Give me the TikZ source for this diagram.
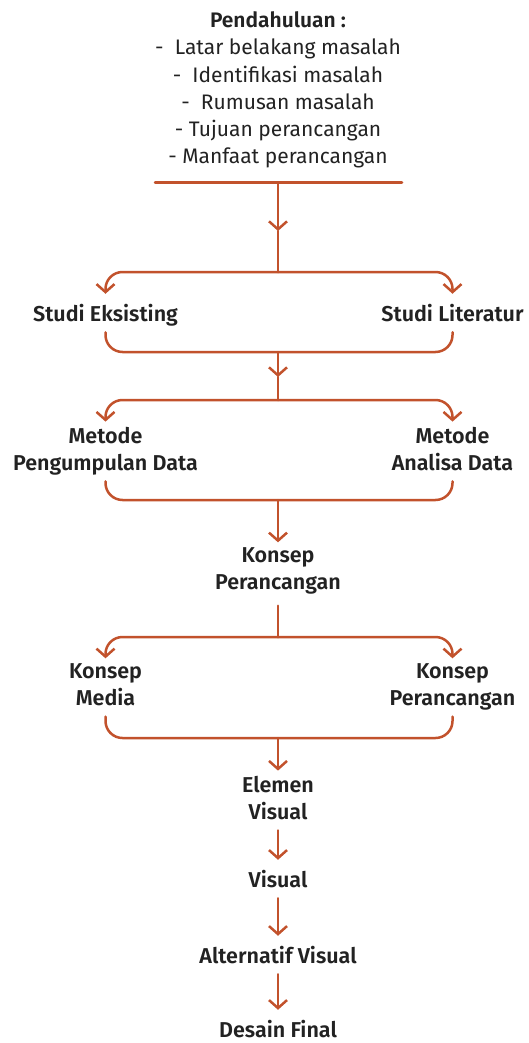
\documentclass[tikz,border=0pt]{standalone}
\usepackage{fontspec}
\setmainfont{Fira Sans}[BoldFont={Fira Sans SemiBold}]
\usetikzlibrary{positioning,arrows.meta}
\definecolor{rust}{HTML}{C2522C}
\definecolor{ink}{HTML}{222222}
\tikzstyle{stepbox}=[text=ink,font=\bfseries\fontsize{21.5}{27}\selectfont,align=center,
  inner xsep=4pt,inner ysep=4pt,
  execute at begin node={\rule[-6pt]{0pt}{28pt}},
  execute at end node={\rule[-6pt]{0pt}{6pt}}]
\tikzstyle{introbox}=[text=ink,font=\fontsize{21}{27.2}\selectfont,align=center,inner sep=0pt]
\newcommand{\newStep}[3]{\node[stepbox](#1) at (#3) {#2};}
\newcommand{\newFork}[3]{\draw[->,rounded corners=17pt] (#1) -| (#2.north); \draw[->,rounded corners=17pt] (#1) -| (#3.north);}
\newcommand{\newJoin}[3]{\draw[rounded corners=17pt] (#1.south) |- (#3) -| (#2.south);}

\begin{document}
\begin{tikzpicture}[x=1pt,y=-1pt,
      >={Straight Barb[length=8pt,width=18pt]},
      rust,line width=2.5pt,line cap=round,line join=round
      ]
      \useasboundingbox (0,0) rectangle (528,1043);
      \node[introbox](intro) at (278,90) {\textbf{Pendahuluan :}\\
        -~ Latar belakang masalah\\
        -~ Identifikasi masalah\\
        -~ Rumusan masalah\\
        - Tujuan perancangan\\
        - Manfaat perancangan};
      \coordinate (ruleL) at (155,182.5);
      \coordinate (ruleR) at (402,182.5);
      \coordinate (ruleM) at (278,182.5);
      \coordinate (m1) at (278,231);
      \coordinate (s1) at (278,272);
      \coordinate (j1) at (278,352);
      \coordinate (m2) at (278,377);
      \coordinate (s2) at (278,400);
      \coordinate (j2) at (278,500);
      \coordinate (s3) at (278,637);
      \coordinate (j3) at (278,738);
      \newStep{eks}{Studi Eksisting}{105.5,313}
      \newStep{lit}{Studi Literatur}{452.5,313}
      \newStep{mpd}{Metode\\Pengumpulan Data}{105.5,451.5}
      \newStep{mad}{Metode\\Analisa Data}{452.5,451.5}
      \newStep{kp}{Konsep\\Perancangan}{278,571.5}
      \newStep{km}{Konsep\\Media}{105.5,687.5}
      \newStep{kpr}{Konsep\\Perancangan}{452.5,687.5}
      \newStep{ev}{Elemen\\Visual}{278,800.5}
      \newStep{vis}{Visual}{278,879}
      \newStep{alt}{Alternatif Visual}{278,955}
      \newStep{fin}{Desain Final}{278,1029}
      % pendahuluan
      \draw (ruleL) -- (ruleR);
      \draw[->] (ruleM) -- (m1);
      \draw (m1) -- (s1);
      % studi
      \newFork{s1}{eks}{lit}
      \newJoin{eks}{lit}{j1}
      \draw[->] (j1) -- (m2);
      \draw (m2) -- (s2);
      % metode
      \newFork{s2}{mpd}{mad}
      \newJoin{mpd}{mad}{j2}
      \draw[->] (j2) -- (kp);
      % konsep
      \draw[shorten <=5pt] (kp) -- (s3);
      \newFork{s3}{km}{kpr}
      \newJoin{km}{kpr}{j3}
      \draw[->] (j3) -- (ev);
      \draw[->] (ev) -- (vis);
      \draw[->] (vis) -- (alt);
      \draw[->] (alt) -- (fin);
    \end{tikzpicture}
\end{document}
